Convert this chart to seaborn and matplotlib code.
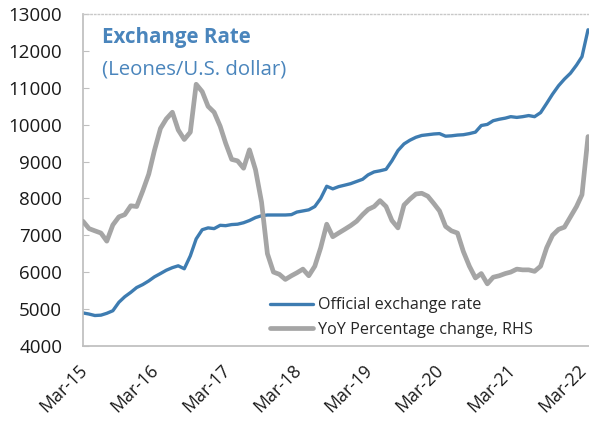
import pandas as pd
import numpy as np
import matplotlib
matplotlib.use('Agg')
import matplotlib.pyplot as plt
import matplotlib.dates as mdates
import matplotlib.transforms as mtransforms
from matplotlib.lines import Line2D
import seaborn as sns

# Monthly data, Mar-2015 .. Apr-2022
start_month = '2015-03-01'

# Official exchange rate (Leones per U.S. dollar)
official_rate = [
    4890, 4860, 4820, 4830, 4880, 4950, 5180, 5330, 5450, 5580, 5660, 5760,
    5870, 5960, 6050, 6120, 6170, 6090, 6440, 6900, 7150, 7200, 7180, 7270,
    7260, 7290, 7300, 7340, 7400, 7480, 7530, 7550, 7550, 7550, 7550, 7560,
    7630, 7660, 7690, 7780, 8000, 8330, 8260, 8320, 8360, 8400, 8460, 8520,
    8640, 8720, 8750, 8790, 9020, 9300, 9480, 9580, 9660, 9710, 9730, 9750,
    9760, 9690, 9700, 9720, 9730, 9760, 9800, 9980, 10010, 10110, 10150, 10180,
    10220, 10200, 10220, 10250, 10220, 10330, 10580, 10830, 11060, 11240, 11400, 11620,
    11850, 12580,
]

# YoY percentage change (right-hand scale, not labelled in the original)
yoy_change = [
    11.9, 10.9, 10.6, 10.3, 9.2, 11.4, 12.5, 12.8, 14.0, 13.9, 16.0, 18.3,
    21.5, 24.5, 25.8, 26.7, 24.3, 23.0, 24.0, 30.5, 29.5, 27.5, 26.7, 24.8,
    22.5, 20.3, 20.1, 19.1, 21.6, 18.9, 14.5, 7.5, 5.0, 4.7, 4.0, 4.5,
    4.9, 5.4, 4.5, 5.8, 8.3, 11.5, 9.8, 10.3, 10.8, 11.3, 11.9, 12.8,
    13.5, 13.9, 14.7, 13.9, 12.0, 11.0, 14.1, 14.9, 15.6, 15.7, 15.3, 14.3,
    13.3, 11.2, 10.6, 10.3, 7.8, 5.8, 4.2, 4.8, 3.4, 4.3, 4.5, 4.8,
    5.0, 5.4, 5.3, 5.3, 5.1, 5.8, 8.3, 10.0, 10.8, 11.1, 12.5, 13.9,
    15.5, 23.4,
]

labels = ['Official exchange rate', 'YoY Percentage change, RHS']
title = 'Exchange Rate'
subtitle = '(Leones/U.S. dollar)'

dates = pd.date_range(start_month, periods=len(official_rate), freq='MS')
df = pd.DataFrame({'date': dates, 'rate': official_rate, 'yoy': yoy_change})

blue = '#3E7CB1'
gray = '#A5A5A5'
title_blue = '#4A85BC'

sns.set_theme(style='white')
plt.rcParams['font.family'] = ['Open Sans', 'DejaVu Sans']

fig = plt.figure(figsize=(5.89, 4.23), dpi=100)
ax = fig.add_axes([0.1409, 0.1827, 0.8591, 0.7835])
ax2 = ax.twinx()

sns.lineplot(data=df, x='date', y='rate', ax=ax, color=blue, linewidth=2.4)
sns.lineplot(data=df, x='date', y='yoy', ax=ax2, color=gray, linewidth=3.4)

ax.set_ylim(4000, 13000)
ax.set_yticks(np.arange(4000, 13001, 1000))
ax2.set_ylim(-5, 40)
ax.set_xlim(pd.Timestamp('2015-03-01'), pd.Timestamp('2022-04-06'))

ax.xaxis.set_major_locator(mdates.MonthLocator(bymonth=3))
ax.xaxis.set_major_formatter(mdates.DateFormatter('%b-%y'))
ax.set_xlabel('')
ax.set_ylabel('')
ax2.set_ylabel('')
ax2.set_yticks([])

ax.tick_params(axis='y', direction='in', length=4, width=0.8, color='#BFBFBF',
               labelsize=13.5, pad=15, labelcolor='#1a1a1a')
ax.tick_params(axis='x', direction='in', length=5, width=0.8, color='#BFBFBF',
               labelsize=12.8, pad=16, labelcolor='#1a1a1a')
shift = mtransforms.ScaledTranslation(1.5 / 100, 0, fig.dpi_scale_trans)
for lbl in ax.get_xticklabels():
    lbl.set_rotation(45)
    lbl.set_ha('right')
    lbl.set_va('center')
    lbl.set_rotation_mode('anchor')
    lbl.set_transform(lbl.get_transform() + shift)

for a in (ax, ax2):
    a.spines['right'].set_visible(False)
    a.spines['top'].set_color('#C8C8C8')
    a.spines['top'].set_linestyle(':')
    a.spines['top'].set_linewidth(1.0)
    a.spines['left'].set_color('#BFBFBF')
    a.spines['bottom'].set_color('#BFBFBF')
    a.patch.set_visible(False)
ax2.spines['left'].set_visible(False)
ax2.spines['bottom'].set_visible(False)
ax2.spines['top'].set_visible(False)

fig.text(0.173, 0.898, title, color=title_blue, fontsize=14.8, fontweight='bold',
         va='baseline', ha='left')
fig.text(0.173, 0.825, subtitle, color=title_blue, fontsize=14.7, va='baseline', ha='left')

handles = [Line2D([], [], color=blue, linewidth=2.4),
           Line2D([], [], color=gray, linewidth=3.4)]
ax2.legend(handles, labels, loc='center left', bbox_to_anchor=(0.4584, 0.249),
           bbox_transform=fig.transFigure, frameon=False, fontsize=11.6,
           handlelength=2.7, handletextpad=0.25, labelspacing=0.55,
           borderpad=0, borderaxespad=0)

fig.savefig('out.png', dpi=100)
